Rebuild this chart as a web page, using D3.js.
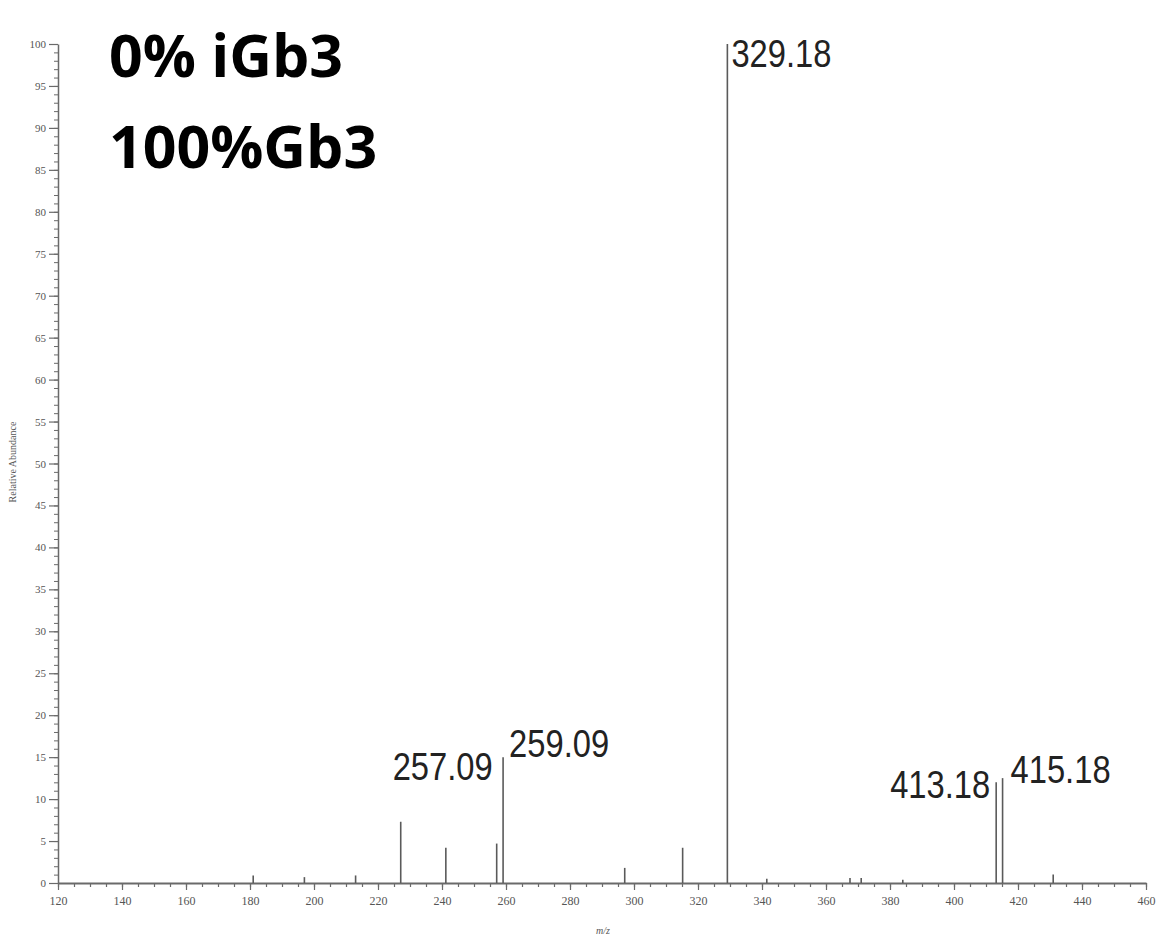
<!DOCTYPE html>
<html>
<head>
<meta charset="utf-8">
<script src="https://cdn.jsdelivr.net/npm/d3@7"></script>
<style>
  html, body { margin: 0; padding: 0; background: #fff; }
  svg { display: block; }
</style>
</head>
<body>
<svg id="chart" width="1159" height="937"></svg>
<script>
// ---- data ----
const peakMz        = [181, 197, 213, 227.1, 241.2, 257.09, 259.09, 297.1, 315.2, 329.18, 341.5, 367.5, 371, 384, 413.18, 415.18, 431];
const peakIntensity = [0.9, 0.7, 0.9, 7.3,   4.2,   4.7,    15,     1.8,   4.2,   100,    0.5,   0.6,   0.6, 0.4, 12.0,   12.5,   1.0];
const labelledMz    = ["257.09", "259.09", "329.18", "413.18", "415.18"];
const titleLines    = ["0% iGb3", "100%Gb3"];
const xTicks        = [120, 140, 160, 180, 200, 220, 240, 260, 280, 300, 320, 340, 360, 380, 400, 420, 440, 460];
const yTicks        = [0, 5, 10, 15, 20, 25, 30, 35, 40, 45, 50, 55, 60, 65, 70, 75, 80, 85, 90, 95, 100];
const xTitle = "m/z";
const yTitle = "Relative Abundance";

// ---- layout ----
const svg = d3.select("#chart");
const x = d3.scaleLinear().domain([120, 460]).range([58, 1146]);
const y = d3.scaleLinear().domain([0, 100]).range([883, 44]);
const axisColor = "#6a6a6a";

// minor x ticks (every 5)
svg.append("g")
  .attr("transform", `translate(0,${y(0)})`)
  .call(d3.axisBottom(x).tickValues(d3.range(120, 461, 5)).tickSize(4).tickFormat(""))
  .call(g => g.select(".domain").remove())
  .call(g => g.selectAll("line").attr("stroke", axisColor).attr("stroke-width", 1.2));

// major x axis
svg.append("g")
  .attr("transform", `translate(0,${y(0)})`)
  .call(d3.axisBottom(x).tickValues(xTicks).tickSize(7).tickPadding(6).tickSizeOuter(0))
  .call(g => g.select(".domain").attr("stroke", axisColor).attr("stroke-width", 2))
  .call(g => g.selectAll("line").attr("stroke", axisColor).attr("stroke-width", 1.2))
  .call(g => g.selectAll("text").attr("fill", "#555").attr("font-family", "Liberation Serif").attr("font-size", 12));

// minor y ticks (every 1)
svg.append("g")
  .attr("transform", `translate(${x(120)},0)`)
  .call(d3.axisLeft(y).tickValues(d3.range(0, 101, 1)).tickSize(4).tickFormat(""))
  .call(g => g.select(".domain").remove())
  .call(g => g.selectAll("line").attr("stroke", axisColor).attr("stroke-width", 1));

// major y axis
svg.append("g")
  .attr("transform", `translate(${x(120)},0)`)
  .call(d3.axisLeft(y).tickValues(yTicks).tickSize(9).tickPadding(3).tickSizeOuter(0))
  .call(g => g.select(".domain").attr("stroke", axisColor).attr("stroke-width", 1.5))
  .call(g => g.selectAll("line").attr("stroke", axisColor).attr("stroke-width", 1.2))
  .call(g => g.selectAll("text").attr("fill", "#555").attr("font-family", "Liberation Serif").attr("font-size", 11));

// axis titles
svg.append("text")
  .attr("transform", `translate(16,462) rotate(-90)`)
  .attr("text-anchor", "middle")
  .attr("font-family", "Liberation Serif")
  .attr("font-size", 10)
  .attr("fill", "#555")
  .text(yTitle);
svg.append("text")
  .attr("x", 603).attr("y", 934)
  .attr("text-anchor", "middle")
  .attr("font-family", "Liberation Serif")
  .attr("font-style", "italic")
  .attr("font-size", 10)
  .attr("fill", "#555")
  .text(xTitle);

// peaks as sticks
const peaks = peakMz.map((m, i) => ({ mz: m, v: peakIntensity[i] }));
svg.append("g").selectAll("line").data(peaks).join("line")
  .attr("x1", d => x(d.mz)).attr("x2", d => x(d.mz))
  .attr("y1", y(0)).attr("y2", d => y(d.v))
  .attr("stroke", "#5a5a5a")
  .attr("stroke-width", 1.6);

// peak labels
const labelStyle = {
  "257.09": { anchor: "end",   dx: -4, baseline: 780 },
  "259.09": { anchor: "start", dx: 6,  baseline: 757 },
  "329.18": { anchor: "start", dx: 4,  baseline: 67 },
  "413.18": { anchor: "end",   dx: -6, baseline: 798 },
  "415.18": { anchor: "start", dx: 8,  baseline: 783 }
};
svg.append("g").selectAll("text").data(labelledMz).join("text")
  .attr("x", d => x(+d) + labelStyle[d].dx)
  .attr("y", d => labelStyle[d].baseline)
  .attr("text-anchor", d => labelStyle[d].anchor)
  .attr("font-family", "Liberation Sans")
  .attr("font-size", 38)
  .attr("textLength", 100)
  .attr("lengthAdjust", "spacingAndGlyphs")
  .attr("fill", "#222")
  .text(d => d);

// big title annotation
svg.append("g").selectAll("text").data(titleLines).join("text")
  .attr("x", 109)
  .attr("y", (d, i) => 77 + i * 91)
  .attr("font-family", "Open Sans")
  .attr("font-weight", "bold")
  .attr("font-size", 59)
  .attr("fill", "#000")
  .text(d => d);
</script>
</body>
</html>
